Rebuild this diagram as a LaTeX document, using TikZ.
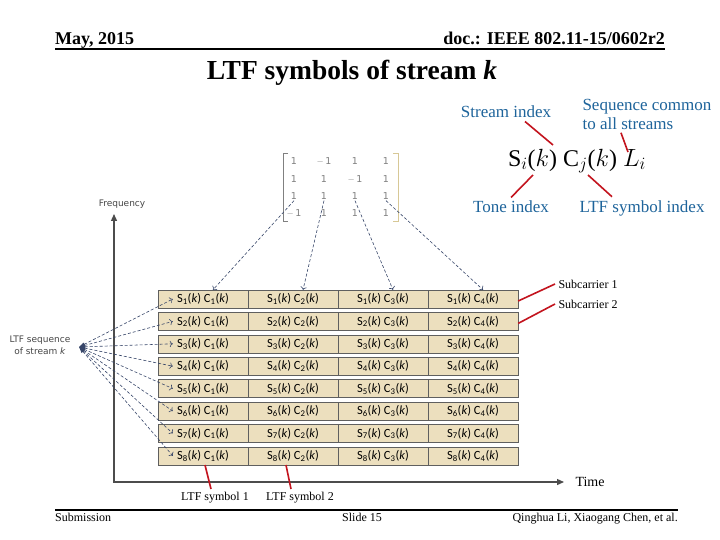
\documentclass[tikz,border=0pt]{standalone}
\usepackage{fontspec}
\setmainfont{Liberation Serif}
\newfontfamily\cellfont{Carlito}
\newfontfamily\labelfont{DejaVu Sans}
\usetikzlibrary{arrows.meta}

\definecolor{cellfill}{RGB}{236,223,190}
\definecolor{celldraw}{RGB}{95,95,95}
\definecolor{dashblue}{RGB}{55,70,105}
\definecolor{notered}{RGB}{195,20,30}
\definecolor{noteblue}{RGB}{30,100,155}
\definecolor{labelgrey}{RGB}{70,70,70}
\definecolor{bracketpale}{RGB}{215,200,150}

\tikzset{
  cellbox/.style={draw=celldraw, fill=cellfill, minimum width=90pt, minimum height=18pt,
    inner sep=0pt, text=black, font=\cellfont\fontsize{12.5}{14}\selectfont},
  entry/.style={text=gray, inner sep=1pt, font=\labelfont\fontsize{9.5}{10}\selectfont},
  seqarrow/.style={dashblue, line width=0.6pt, dash pattern=on 3pt off 2pt},
  pointer/.style={notered, line width=1.6pt},
  note/.style={text=noteblue, font=\fontsize{17}{19}\selectfont},
  axisline/.style={black!70, line width=1.3pt},
  slidetext/.style={inner sep=0pt, font=\fontsize{12}{14}\selectfont},
  headtext/.style={inner sep=0pt, font=\bfseries\fontsize{18}{20}\selectfont},
}

\begin{document}
\begin{tikzpicture}[x=1pt, y=-1pt]
    \useasboundingbox[fill=white] (0,0) rectangle (720,540);

    % Header and footer
    \node[headtext, anchor=base west] (date) at (55,45) {May, 2015};
    \node[headtext, anchor=base east] (doc) at (665,45) {doc.: IEEE 802.11-15/0602r2};
    \draw[line width=2pt] (55,49) -- (665,49);
    \node[font=\bfseries\fontsize{27.5}{30}\selectfont] (title) at (352,73) {LTF symbols of stream \textit{k}};
    \draw[line width=2pt] (55,510) -- (678,510);
    \node[slidetext, anchor=base west] (sub) at (55,521) {Submission};
    \node[slidetext, anchor=base] (slide) at (362,521) {Slide 15};
    \node[slidetext, anchor=base east] (auth) at (678,521) {Qinghua Li, Xiaogang Chen, et al.};

    % Axes
    \coordinate (origin) at (114,482);
    \coordinate (ftip) at (114,214);
    \coordinate (ttip) at (564,482);
    \draw[axisline, {Triangle[length=7pt,width=6pt]}-{Triangle[length=7pt,width=6pt]}] (ftip) -- (origin) -- (ttip);
    \node[labelgrey, font=\labelfont\fontsize{9}{10}\selectfont] (freq) at (122,204) {Frequency};
    \node[anchor=west, font=\fontsize{14}{16}\selectfont] (time) at (572,482) {Time};

    % Grid of LTF symbols: row r = stream, column c = LTF symbol
    \foreach \r in {1,...,8} {
    \foreach \c in {1,...,4} {
        \pgfmathsetmacro{\cx}{203+90*(\c-1)}
        \pgfmathsetmacro{\cy}{299+22.4*(\r-1)}
        \node[cellbox] (c\r\c) at (\cx,\cy)
            {S\textsubscript{\r}(\textit{k}) C\textsubscript{\c}(\textit{k})};
    }
    }

    % P matrix
    \foreach \r/\a/\b/\c/\d/\y in {1/1/$-$\,1/1/1/161, 2/1/1/$-$\,1/1/179,
                                   3/1/1/1/1/196, 4/$-$\,1/1/1/1/213} {
        \node[entry] (m\r1) at (294,\y) {\a};
        \node[entry] (m\r2) at (324,\y) {\b};
        \node[entry] (m\r3) at (355,\y) {\c};
        \node[entry] (m\r4) at (386,\y) {\d};
    }
    \draw[gray, line width=0.8pt] (288,153) -- (283,153) -- (283,221) -- (288,221);
    \draw[bracketpale, line width=0.8pt] (393,153) -- (398,153) -- (398,221) -- (393,221);

    % Columns of the matrix go to the LTF symbols
    \foreach \c in {1,...,4}
        \draw[seqarrow, -{To[length=3pt]}] (m3\c.south) -- ([xshift=10pt]c1\c.north);

    % LTF sequence of stream k
    \node[labelgrey, align=center, font=\labelfont\fontsize{9}{12}\selectfont] (seq) at (40,345)
        {LTF sequence\\of stream \textit{k}};
    \coordinate (src) at (79,347);
    \foreach \r in {1,...,8}
        \draw[seqarrow, {Latex[length=6pt,width=4pt]}-{To[length=3pt]}] (src) -- ([xshift=15pt]c\r1.west);

    % Subcarriers and LTF symbols
    \node[anchor=west, font=\fontsize{12}{14}\selectfont] (sc1) at (555,284) {Subcarrier 1};
    \node[anchor=west, font=\fontsize{12}{14}\selectfont] (sc2) at (555,304) {Subcarrier 2};
    \draw[pointer] ([yshift=-2pt]c14.east) -- (sc1.west);
    \draw[pointer] ([yshift=-2pt]c24.east) -- (sc2.west);
    \node[font=\fontsize{12}{14}\selectfont] (sym1) at (215,498) {LTF symbol 1};
    \node[font=\fontsize{12}{14}\selectfont] (sym2) at (300,498) {LTF symbol 2};
    \draw[pointer] ([xshift=2pt]c81.south) -- ([xshift=-4pt]sym1.north);
    \draw[pointer] ([xshift=-7pt]c82.south) -- ([xshift=-9pt]sym2.north);

    % Notation
    \node[font=\fontsize{24}{28}\selectfont] (form) at (577,161) {S$_i$($k$) C$_j$($k$) $L_i$};
    \node[note] (stream) at (506,112) {Stream index};
    \node[note, anchor=west, align=left] (common) at (579,114) {Sequence common\\to all streams};
    \node[note] (tone) at (511,207) {Tone index};
    \node[note] (symidx) at (642,208) {LTF symbol index};
    \coordinate (pS) at (553,145);
    \coordinate (pL) at (628,152);
    \coordinate (pi) at (533,175);
    \coordinate (pj) at (588,175);
    \draw[pointer] ([xshift=19pt]stream.south) -- (pS);
    \draw[pointer] ([xshift=-26pt]common.south) -- (pL);
    \draw[pointer] (tone.north) -- (pi);
    \draw[pointer] ([xshift=-30pt]symidx.north) -- (pj);

    \end{tikzpicture}
\end{document}
